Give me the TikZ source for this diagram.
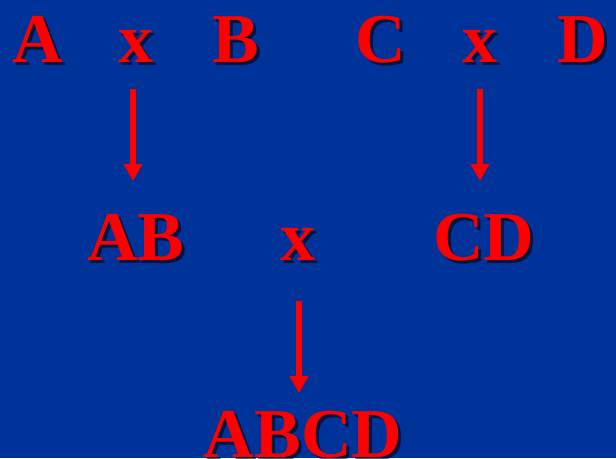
\documentclass[tikz,border=0pt]{standalone}
\usepackage{fontspec}
\setmainfont{Liberation Serif}
\usetikzlibrary{arrows.meta,calc}
\definecolor{bgblue}{RGB}{0,51,153}
\definecolor{lred}{RGB}{255,0,0}
\tikzset{
  lbl/.style={anchor=base, inner sep=0pt, text=lred, font=\bfseries\fontsize{70}{70}\selectfont},
  shd/.style={anchor=base, inner sep=0pt, text=black, text opacity=0.6, font=\bfseries\fontsize{70}{70}\selectfont},
  arr/.style={draw=lred, line width=6pt, -{Triangle[width=18pt,length=17pt]}}
}
\newcommand{\letter}[3]{%
  \node[shd] at ($(#2)+(3,3)$) {#3};
  \node[lbl] (#1) at (#2) {#3};}
\begin{document}
\begin{tikzpicture}[x=1pt,y=-1pt]
\fill[bgblue] (0,0) rectangle (616,458);
\useasboundingbox (0,0) rectangle (616,458);
\letter{A}{38,62}{A}
\letter{x1}{136,62}{x}
\letter{B}{236,62}{B}
\letter{C}{381,62}{C}
\letter{x2}{480,62}{x}
\letter{D}{583,62}{D}
\letter{AB}{136,260}{AB}
\letter{x3}{298,260}{x}
\letter{CD}{484,260}{CD}
\letter{ABCD}{303,457}{ABCD}
\coordinate (a1s) at (133,89);
\coordinate (a1e) at (133,181);
\coordinate (a2s) at (480,89);
\coordinate (a2e) at (480,181);
\coordinate (a3s) at (299,301);
\coordinate (a3e) at (299,393);
\draw[arr] (a1s) -- (a1e);
\draw[arr] (a2s) -- (a2e);
\draw[arr] (a3s) -- (a3e);
\end{tikzpicture}
\end{document}
